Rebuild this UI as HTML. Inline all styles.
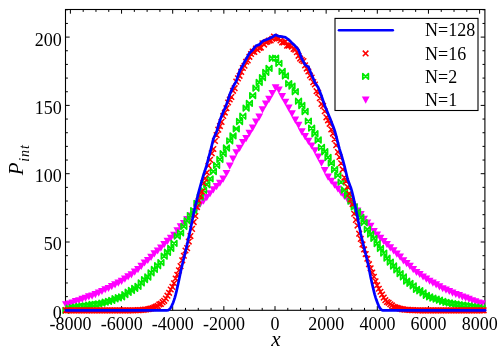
<!DOCTYPE html>
<html><head><meta charset="utf-8"><title>plot</title>
<style>
html,body{margin:0;padding:0;background:#fff;}
body{width:498px;height:353px;overflow:hidden;}
svg{display:block;will-change:transform;}
text{font-family:"Liberation Serif",serif;fill:#000;}
</style></head><body>
<svg width="498" height="353" viewBox="0 0 498 353">
<rect width="498" height="353" fill="#fff"/>
<rect x="65.5" y="9.5" width="419.40" height="300.80" fill="none" stroke="#000" stroke-width="1.1"/>
<path d="M70.40,310.3v-4.2M70.40,9.5v4.2M83.19,310.3v-2.4M83.19,9.5v2.4M95.97,310.3v-2.4M95.97,9.5v2.4M108.76,310.3v-2.4M108.76,9.5v2.4M121.55,310.3v-4.2M121.55,9.5v4.2M134.34,310.3v-2.4M134.34,9.5v2.4M147.12,310.3v-2.4M147.12,9.5v2.4M159.91,310.3v-2.4M159.91,9.5v2.4M172.70,310.3v-4.2M172.70,9.5v4.2M185.49,310.3v-2.4M185.49,9.5v2.4M198.27,310.3v-2.4M198.27,9.5v2.4M211.06,310.3v-2.4M211.06,9.5v2.4M223.85,310.3v-4.2M223.85,9.5v4.2M236.64,310.3v-2.4M236.64,9.5v2.4M249.43,310.3v-2.4M249.43,9.5v2.4M262.21,310.3v-2.4M262.21,9.5v2.4M275.00,310.3v-4.2M275.00,9.5v4.2M287.79,310.3v-2.4M287.79,9.5v2.4M300.57,310.3v-2.4M300.57,9.5v2.4M313.36,310.3v-2.4M313.36,9.5v2.4M326.15,310.3v-4.2M326.15,9.5v4.2M338.94,310.3v-2.4M338.94,9.5v2.4M351.73,310.3v-2.4M351.73,9.5v2.4M364.51,310.3v-2.4M364.51,9.5v2.4M377.30,310.3v-4.2M377.30,9.5v4.2M390.09,310.3v-2.4M390.09,9.5v2.4M402.88,310.3v-2.4M402.88,9.5v2.4M415.66,310.3v-2.4M415.66,9.5v2.4M428.45,310.3v-4.2M428.45,9.5v4.2M441.24,310.3v-2.4M441.24,9.5v2.4M454.02,310.3v-2.4M454.02,9.5v2.4M466.81,310.3v-2.4M466.81,9.5v2.4M479.60,310.3v-4.2M479.60,9.5v4.2M65.5,310.30h4.2M484.9,310.30h-4.2M65.5,296.64h2.4M484.9,296.64h-2.4M65.5,282.98h2.4M484.9,282.98h-2.4M65.5,269.32h2.4M484.9,269.32h-2.4M65.5,255.66h2.4M484.9,255.66h-2.4M65.5,242.00h4.2M484.9,242.00h-4.2M65.5,228.34h2.4M484.9,228.34h-2.4M65.5,214.68h2.4M484.9,214.68h-2.4M65.5,201.02h2.4M484.9,201.02h-2.4M65.5,187.36h2.4M484.9,187.36h-2.4M65.5,173.70h4.2M484.9,173.70h-4.2M65.5,160.04h2.4M484.9,160.04h-2.4M65.5,146.38h2.4M484.9,146.38h-2.4M65.5,132.72h2.4M484.9,132.72h-2.4M65.5,119.06h2.4M484.9,119.06h-2.4M65.5,105.40h4.2M484.9,105.40h-4.2M65.5,91.74h2.4M484.9,91.74h-2.4M65.5,78.08h2.4M484.9,78.08h-2.4M65.5,64.42h2.4M484.9,64.42h-2.4M65.5,50.76h2.4M484.9,50.76h-2.4M65.5,37.10h4.2M484.9,37.10h-4.2M65.5,23.44h2.4M484.9,23.44h-2.4M65.5,9.78h2.4M484.9,9.78h-2.4" fill="none" stroke="#000" stroke-width="1.0"/>
<path d="M62,301.16h7.8l-3.9,7.2zM65.28,300.4h7.8l-3.9,7.2zM68.55,299.51h7.8l-3.9,7.2zM71.83,298.09h7.8l-3.9,7.2zM75.11,297.13h7.8l-3.9,7.2zM78.38,295.8h7.8l-3.9,7.2zM81.66,294.67h7.8l-3.9,7.2zM84.94,293.3h7.8l-3.9,7.2zM88.21,292.43h7.8l-3.9,7.2zM91.49,290.99h7.8l-3.9,7.2zM94.77,289.44h7.8l-3.9,7.2zM98.04,287.89h7.8l-3.9,7.2zM101.32,286.16h7.8l-3.9,7.2zM104.6,284.92h7.8l-3.9,7.2zM107.87,283.03h7.8l-3.9,7.2zM111.15,281.28h7.8l-3.9,7.2zM114.43,279.43h7.8l-3.9,7.2zM117.7,277.68h7.8l-3.9,7.2zM120.98,275.57h7.8l-3.9,7.2zM124.25,273.18h7.8l-3.9,7.2zM127.53,271.18h7.8l-3.9,7.2zM130.81,268.51h7.8l-3.9,7.2zM134.08,265.96h7.8l-3.9,7.2zM137.36,262.75h7.8l-3.9,7.2zM140.64,259.4h7.8l-3.9,7.2zM143.91,256.89h7.8l-3.9,7.2zM147.19,253.69h7.8l-3.9,7.2zM150.47,250.29h7.8l-3.9,7.2zM153.74,247.4h7.8l-3.9,7.2zM157.02,244.44h7.8l-3.9,7.2zM160.3,241.05h7.8l-3.9,7.2zM163.57,237.82h7.8l-3.9,7.2zM166.85,234.64h7.8l-3.9,7.2zM170.13,231.69h7.8l-3.9,7.2zM173.4,227.19h7.8l-3.9,7.2zM176.68,223.35h7.8l-3.9,7.2zM179.96,219.95h7.8l-3.9,7.2zM183.23,216.03h7.8l-3.9,7.2zM186.51,212.38h7.8l-3.9,7.2zM189.79,208h7.8l-3.9,7.2zM193.06,204.77h7.8l-3.9,7.2zM196.34,200.67h7.8l-3.9,7.2zM199.62,197.52h7.8l-3.9,7.2zM202.89,194.09h7.8l-3.9,7.2zM206.17,190.15h7.8l-3.9,7.2zM209.45,186.36h7.8l-3.9,7.2zM212.72,183.12h7.8l-3.9,7.2zM216,179.67h7.8l-3.9,7.2zM219.28,175.5h7.8l-3.9,7.2zM222.55,169.91h7.8l-3.9,7.2zM225.83,162.58h7.8l-3.9,7.2zM229.1,155.46h7.8l-3.9,7.2zM232.38,149.16h7.8l-3.9,7.2zM235.66,144.69h7.8l-3.9,7.2zM238.93,139.09h7.8l-3.9,7.2zM242.21,135.03h7.8l-3.9,7.2zM245.49,129.69h7.8l-3.9,7.2zM248.76,124.59h7.8l-3.9,7.2zM252.04,118.54h7.8l-3.9,7.2zM255.32,113.43h7.8l-3.9,7.2zM258.59,106.18h7.8l-3.9,7.2zM261.87,100.51h7.8l-3.9,7.2zM265.15,95.76h7.8l-3.9,7.2zM268.42,90.05h7.8l-3.9,7.2zM271.7,84.27h7.8l-3.9,7.2zM274.98,86.43h7.8l-3.9,7.2zM278.25,92.97h7.8l-3.9,7.2zM281.53,98.64h7.8l-3.9,7.2zM284.81,104.59h7.8l-3.9,7.2zM288.08,110.32h7.8l-3.9,7.2zM291.36,116.52h7.8l-3.9,7.2zM294.64,121.87h7.8l-3.9,7.2zM297.91,128.25h7.8l-3.9,7.2zM301.19,132.93h7.8l-3.9,7.2zM304.47,137.82h7.8l-3.9,7.2zM307.74,142.4h7.8l-3.9,7.2zM311.02,147.21h7.8l-3.9,7.2zM314.3,153.62h7.8l-3.9,7.2zM317.57,159.67h7.8l-3.9,7.2zM320.85,167.02h7.8l-3.9,7.2zM324.13,173.53h7.8l-3.9,7.2zM327.4,177.64h7.8l-3.9,7.2zM330.68,181.61h7.8l-3.9,7.2zM333.95,185.39h7.8l-3.9,7.2zM337.23,189.19h7.8l-3.9,7.2zM340.51,192.88h7.8l-3.9,7.2zM343.78,196.32h7.8l-3.9,7.2zM347.06,199.74h7.8l-3.9,7.2zM350.34,203.41h7.8l-3.9,7.2zM353.61,207.38h7.8l-3.9,7.2zM356.89,210.93h7.8l-3.9,7.2zM360.17,215.71h7.8l-3.9,7.2zM363.44,219.5h7.8l-3.9,7.2zM366.72,222.74h7.8l-3.9,7.2zM370,227.96h7.8l-3.9,7.2zM373.27,231.59h7.8l-3.9,7.2zM376.55,234.77h7.8l-3.9,7.2zM379.83,237.92h7.8l-3.9,7.2zM383.1,241.01h7.8l-3.9,7.2zM386.38,244.31h7.8l-3.9,7.2zM389.66,247.32h7.8l-3.9,7.2zM392.93,250.54h7.8l-3.9,7.2zM396.21,253.53h7.8l-3.9,7.2zM399.49,257.24h7.8l-3.9,7.2zM402.76,260.01h7.8l-3.9,7.2zM406.04,262.8h7.8l-3.9,7.2zM409.32,265.97h7.8l-3.9,7.2zM412.59,268.91h7.8l-3.9,7.2zM415.87,270.89h7.8l-3.9,7.2zM419.15,273.38h7.8l-3.9,7.2zM422.42,275.44h7.8l-3.9,7.2zM425.7,277.64h7.8l-3.9,7.2zM428.98,279.53h7.8l-3.9,7.2zM432.25,281.32h7.8l-3.9,7.2zM435.53,283.23h7.8l-3.9,7.2zM438.8,285.16h7.8l-3.9,7.2zM442.08,286.47h7.8l-3.9,7.2zM445.36,287.91h7.8l-3.9,7.2zM448.63,289.54h7.8l-3.9,7.2zM451.91,290.91h7.8l-3.9,7.2zM455.19,292.08h7.8l-3.9,7.2zM458.46,293.51h7.8l-3.9,7.2zM461.74,294.61h7.8l-3.9,7.2zM465.02,295.73h7.8l-3.9,7.2zM468.29,297.15h7.8l-3.9,7.2zM471.57,298.27h7.8l-3.9,7.2zM474.85,299.49h7.8l-3.9,7.2zM478.12,300.32h7.8l-3.9,7.2z" fill="#ff00ff"/>
<path d="M63.1,307.5l5.6,5.6v-5.6l-5.6,5.6zM66.38,305.41l5.6,5.6v-5.6l-5.6,5.6zM69.65,304.75l5.6,5.6v-5.6l-5.6,5.6zM72.93,304.34l5.6,5.6v-5.6l-5.6,5.6zM76.21,303.52l5.6,5.6v-5.6l-5.6,5.6zM79.48,303.27l5.6,5.6v-5.6l-5.6,5.6zM82.76,303.1l5.6,5.6v-5.6l-5.6,5.6zM86.04,302.44l5.6,5.6v-5.6l-5.6,5.6zM89.31,301.55l5.6,5.6v-5.6l-5.6,5.6zM92.59,301.55l5.6,5.6v-5.6l-5.6,5.6zM95.87,301.14l5.6,5.6v-5.6l-5.6,5.6zM99.14,300.28l5.6,5.6v-5.6l-5.6,5.6zM102.42,299.26l5.6,5.6v-5.6l-5.6,5.6zM105.7,298.52l5.6,5.6v-5.6l-5.6,5.6zM108.97,297.51l5.6,5.6v-5.6l-5.6,5.6zM112.25,295.96l5.6,5.6v-5.6l-5.6,5.6zM115.53,294.97l5.6,5.6v-5.6l-5.6,5.6zM118.8,293.99l5.6,5.6v-5.6l-5.6,5.6zM122.08,291.87l5.6,5.6v-5.6l-5.6,5.6zM125.35,289.47l5.6,5.6v-5.6l-5.6,5.6zM128.63,287.66l5.6,5.6v-5.6l-5.6,5.6zM131.91,285.59l5.6,5.6v-5.6l-5.6,5.6zM135.18,283.48l5.6,5.6v-5.6l-5.6,5.6zM138.46,280.13l5.6,5.6v-5.6l-5.6,5.6zM141.74,276.76l5.6,5.6v-5.6l-5.6,5.6zM145.01,274.22l5.6,5.6v-5.6l-5.6,5.6zM148.29,269.98l5.6,5.6v-5.6l-5.6,5.6zM151.57,266.64l5.6,5.6v-5.6l-5.6,5.6zM154.84,262.89l5.6,5.6v-5.6l-5.6,5.6zM158.12,259.76l5.6,5.6v-5.6l-5.6,5.6zM161.4,253.4l5.6,5.6v-5.6l-5.6,5.6zM164.67,249.43l5.6,5.6v-5.6l-5.6,5.6zM167.95,245.61l5.6,5.6v-5.6l-5.6,5.6zM171.23,240.52l5.6,5.6v-5.6l-5.6,5.6zM174.5,233.35l5.6,5.6v-5.6l-5.6,5.6zM177.78,229.98l5.6,5.6v-5.6l-5.6,5.6zM181.06,223.66l5.6,5.6v-5.6l-5.6,5.6zM184.33,217.96l5.6,5.6v-5.6l-5.6,5.6zM187.61,212.77l5.6,5.6v-5.6l-5.6,5.6zM190.89,207.73l5.6,5.6v-5.6l-5.6,5.6zM194.16,200.53l5.6,5.6v-5.6l-5.6,5.6zM197.44,194.3l5.6,5.6v-5.6l-5.6,5.6zM200.72,187.53l5.6,5.6v-5.6l-5.6,5.6zM203.99,181.75l5.6,5.6v-5.6l-5.6,5.6zM207.27,176.1l5.6,5.6v-5.6l-5.6,5.6zM210.55,168.69l5.6,5.6v-5.6l-5.6,5.6zM213.82,162.52l5.6,5.6v-5.6l-5.6,5.6zM217.1,156.65l5.6,5.6v-5.6l-5.6,5.6zM220.38,150.86l5.6,5.6v-5.6l-5.6,5.6zM223.65,145.22l5.6,5.6v-5.6l-5.6,5.6zM226.93,137.98l5.6,5.6v-5.6l-5.6,5.6zM230.2,133.12l5.6,5.6v-5.6l-5.6,5.6zM233.48,126.09l5.6,5.6v-5.6l-5.6,5.6zM236.76,118.71l5.6,5.6v-5.6l-5.6,5.6zM240.03,113.4l5.6,5.6v-5.6l-5.6,5.6zM243.31,105.36l5.6,5.6v-5.6l-5.6,5.6zM246.59,100.52l5.6,5.6v-5.6l-5.6,5.6zM249.86,92.84l5.6,5.6v-5.6l-5.6,5.6zM253.14,85.41l5.6,5.6v-5.6l-5.6,5.6zM256.42,79.64l5.6,5.6v-5.6l-5.6,5.6zM259.69,74.81l5.6,5.6v-5.6l-5.6,5.6zM262.97,69.52l5.6,5.6v-5.6l-5.6,5.6zM266.25,65.62l5.6,5.6v-5.6l-5.6,5.6zM269.52,55.56l5.6,5.6v-5.6l-5.6,5.6zM272.8,55.3l5.6,5.6v-5.6l-5.6,5.6zM276.08,60.51l5.6,5.6v-5.6l-5.6,5.6zM279.35,68.57l5.6,5.6v-5.6l-5.6,5.6zM282.63,73.14l5.6,5.6v-5.6l-5.6,5.6zM285.91,80.76l5.6,5.6v-5.6l-5.6,5.6zM289.18,83.26l5.6,5.6v-5.6l-5.6,5.6zM292.46,88.88l5.6,5.6v-5.6l-5.6,5.6zM295.74,98.39l5.6,5.6v-5.6l-5.6,5.6zM299.01,102.68l5.6,5.6v-5.6l-5.6,5.6zM302.29,108.71l5.6,5.6v-5.6l-5.6,5.6zM305.57,118.42l5.6,5.6v-5.6l-5.6,5.6zM308.84,125.27l5.6,5.6v-5.6l-5.6,5.6zM312.12,130.96l5.6,5.6v-5.6l-5.6,5.6zM315.4,137.18l5.6,5.6v-5.6l-5.6,5.6zM318.67,144.49l5.6,5.6v-5.6l-5.6,5.6zM321.95,148.93l5.6,5.6v-5.6l-5.6,5.6zM325.23,154.66l5.6,5.6v-5.6l-5.6,5.6zM328.5,160.3l5.6,5.6v-5.6l-5.6,5.6zM331.78,166.71l5.6,5.6v-5.6l-5.6,5.6zM335.05,172.51l5.6,5.6v-5.6l-5.6,5.6zM338.33,179.23l5.6,5.6v-5.6l-5.6,5.6zM341.61,187.21l5.6,5.6v-5.6l-5.6,5.6zM344.88,192.2l5.6,5.6v-5.6l-5.6,5.6zM348.16,198.39l5.6,5.6v-5.6l-5.6,5.6zM351.44,204.12l5.6,5.6v-5.6l-5.6,5.6zM354.71,209.02l5.6,5.6v-5.6l-5.6,5.6zM357.99,214.56l5.6,5.6v-5.6l-5.6,5.6zM361.27,219.79l5.6,5.6v-5.6l-5.6,5.6zM364.54,226.5l5.6,5.6v-5.6l-5.6,5.6zM367.82,231.32l5.6,5.6v-5.6l-5.6,5.6zM371.1,235.56l5.6,5.6v-5.6l-5.6,5.6zM374.37,240.79l5.6,5.6v-5.6l-5.6,5.6zM377.65,245.67l5.6,5.6v-5.6l-5.6,5.6zM380.93,250.23l5.6,5.6v-5.6l-5.6,5.6zM384.2,255.37l5.6,5.6v-5.6l-5.6,5.6zM387.48,259.24l5.6,5.6v-5.6l-5.6,5.6zM390.76,263.19l5.6,5.6v-5.6l-5.6,5.6zM394.03,267l5.6,5.6v-5.6l-5.6,5.6zM397.31,270.85l5.6,5.6v-5.6l-5.6,5.6zM400.59,274.17l5.6,5.6v-5.6l-5.6,5.6zM403.86,278.32l5.6,5.6v-5.6l-5.6,5.6zM407.14,280.49l5.6,5.6v-5.6l-5.6,5.6zM410.42,283.02l5.6,5.6v-5.6l-5.6,5.6zM413.69,286.55l5.6,5.6v-5.6l-5.6,5.6zM416.97,287.94l5.6,5.6v-5.6l-5.6,5.6zM420.25,289.99l5.6,5.6v-5.6l-5.6,5.6zM423.52,292.51l5.6,5.6v-5.6l-5.6,5.6zM426.8,294.06l5.6,5.6v-5.6l-5.6,5.6zM430.07,295.27l5.6,5.6v-5.6l-5.6,5.6zM433.35,296.24l5.6,5.6v-5.6l-5.6,5.6zM436.63,297.4l5.6,5.6v-5.6l-5.6,5.6zM439.9,298.65l5.6,5.6v-5.6l-5.6,5.6zM443.18,299.58l5.6,5.6v-5.6l-5.6,5.6zM446.46,300.15l5.6,5.6v-5.6l-5.6,5.6zM449.73,300.86l5.6,5.6v-5.6l-5.6,5.6zM453.01,301.33l5.6,5.6v-5.6l-5.6,5.6zM456.29,301.8l5.6,5.6v-5.6l-5.6,5.6zM459.56,302.38l5.6,5.6v-5.6l-5.6,5.6zM462.84,302.87l5.6,5.6v-5.6l-5.6,5.6zM466.12,303.15l5.6,5.6v-5.6l-5.6,5.6zM469.39,303.76l5.6,5.6v-5.6l-5.6,5.6zM472.67,304.37l5.6,5.6v-5.6l-5.6,5.6zM475.95,304.78l5.6,5.6v-5.6l-5.6,5.6zM479.22,305.24l5.6,5.6v-5.6l-5.6,5.6z" fill="none" stroke="#00ea00" stroke-width="1.7" stroke-linejoin="round"/>
<path d="M63.1,307.5l5.6,5.6m-5.6,0l5.6,-5.6M64.74,307.5l5.6,5.6m-5.6,0l5.6,-5.6M66.38,307.5l5.6,5.6m-5.6,0l5.6,-5.6M68.01,307.5l5.6,5.6m-5.6,0l5.6,-5.6M69.65,307.5l5.6,5.6m-5.6,0l5.6,-5.6M71.29,307.5l5.6,5.6m-5.6,0l5.6,-5.6M72.93,307.5l5.6,5.6m-5.6,0l5.6,-5.6M74.57,307.5l5.6,5.6m-5.6,0l5.6,-5.6M76.21,307.5l5.6,5.6m-5.6,0l5.6,-5.6M77.84,307.5l5.6,5.6m-5.6,0l5.6,-5.6M79.48,307.5l5.6,5.6m-5.6,0l5.6,-5.6M81.12,307.5l5.6,5.6m-5.6,0l5.6,-5.6M82.76,307.5l5.6,5.6m-5.6,0l5.6,-5.6M84.4,307.5l5.6,5.6m-5.6,0l5.6,-5.6M86.04,307.5l5.6,5.6m-5.6,0l5.6,-5.6M87.67,307.5l5.6,5.6m-5.6,0l5.6,-5.6M89.31,307.5l5.6,5.6m-5.6,0l5.6,-5.6M90.95,307.5l5.6,5.6m-5.6,0l5.6,-5.6M92.59,307.5l5.6,5.6m-5.6,0l5.6,-5.6M94.23,307.5l5.6,5.6m-5.6,0l5.6,-5.6M95.87,307.5l5.6,5.6m-5.6,0l5.6,-5.6M97.5,307.5l5.6,5.6m-5.6,0l5.6,-5.6M99.14,307.5l5.6,5.6m-5.6,0l5.6,-5.6M100.78,307.5l5.6,5.6m-5.6,0l5.6,-5.6M102.42,307.5l5.6,5.6m-5.6,0l5.6,-5.6M104.06,307.5l5.6,5.6m-5.6,0l5.6,-5.6M105.7,307.5l5.6,5.6m-5.6,0l5.6,-5.6M107.33,307.5l5.6,5.6m-5.6,0l5.6,-5.6M108.97,307.5l5.6,5.6m-5.6,0l5.6,-5.6M110.61,307.5l5.6,5.6m-5.6,0l5.6,-5.6M112.25,307.5l5.6,5.6m-5.6,0l5.6,-5.6M113.89,307.5l5.6,5.6m-5.6,0l5.6,-5.6M115.53,307.5l5.6,5.6m-5.6,0l5.6,-5.6M117.16,307.5l5.6,5.6m-5.6,0l5.6,-5.6M118.8,307.5l5.6,5.6m-5.6,0l5.6,-5.6M120.44,307.5l5.6,5.6m-5.6,0l5.6,-5.6M122.08,307.5l5.6,5.6m-5.6,0l5.6,-5.6M123.72,307.5l5.6,5.6m-5.6,0l5.6,-5.6M125.35,307.5l5.6,5.6m-5.6,0l5.6,-5.6M126.99,307.5l5.6,5.6m-5.6,0l5.6,-5.6M128.63,307.5l5.6,5.6m-5.6,0l5.6,-5.6M130.27,307.5l5.6,5.6m-5.6,0l5.6,-5.6M131.91,307.47l5.6,5.6m-5.6,0l5.6,-5.6M133.55,307.42l5.6,5.6m-5.6,0l5.6,-5.6M135.18,307.35l5.6,5.6m-5.6,0l5.6,-5.6M136.82,307.26l5.6,5.6m-5.6,0l5.6,-5.6M138.46,307.17l5.6,5.6m-5.6,0l5.6,-5.6M140.1,307.05l5.6,5.6m-5.6,0l5.6,-5.6M141.74,306.85l5.6,5.6m-5.6,0l5.6,-5.6M143.38,306.71l5.6,5.6m-5.6,0l5.6,-5.6M145.01,306.42l5.6,5.6m-5.6,0l5.6,-5.6M146.65,306.06l5.6,5.6m-5.6,0l5.6,-5.6M148.29,305.74l5.6,5.6m-5.6,0l5.6,-5.6M149.93,305.33l5.6,5.6m-5.6,0l5.6,-5.6M151.57,304.58l5.6,5.6m-5.6,0l5.6,-5.6M153.21,303.87l5.6,5.6m-5.6,0l5.6,-5.6M154.84,303.14l5.6,5.6m-5.6,0l5.6,-5.6M156.48,301.65l5.6,5.6m-5.6,0l5.6,-5.6M158.12,301.07l5.6,5.6m-5.6,0l5.6,-5.6M159.76,299.4l5.6,5.6m-5.6,0l5.6,-5.6M161.4,298l5.6,5.6m-5.6,0l5.6,-5.6M163.04,295.71l5.6,5.6m-5.6,0l5.6,-5.6M164.67,292.9l5.6,5.6m-5.6,0l5.6,-5.6M166.31,290.02l5.6,5.6m-5.6,0l5.6,-5.6M167.95,286.69l5.6,5.6m-5.6,0l5.6,-5.6M169.59,284.08l5.6,5.6m-5.6,0l5.6,-5.6M171.23,280.47l5.6,5.6m-5.6,0l5.6,-5.6M172.86,275.67l5.6,5.6m-5.6,0l5.6,-5.6M174.5,271.94l5.6,5.6m-5.6,0l5.6,-5.6M176.14,267.57l5.6,5.6m-5.6,0l5.6,-5.6M177.78,263.33l5.6,5.6m-5.6,0l5.6,-5.6M179.42,257.53l5.6,5.6m-5.6,0l5.6,-5.6M181.06,252.99l5.6,5.6m-5.6,0l5.6,-5.6M182.69,247.71l5.6,5.6m-5.6,0l5.6,-5.6M184.33,245.33l5.6,5.6m-5.6,0l5.6,-5.6M185.97,238.78l5.6,5.6m-5.6,0l5.6,-5.6M187.61,233.28l5.6,5.6m-5.6,0l5.6,-5.6M189.25,226.07l5.6,5.6m-5.6,0l5.6,-5.6M190.89,219.26l5.6,5.6m-5.6,0l5.6,-5.6M192.52,213.2l5.6,5.6m-5.6,0l5.6,-5.6M194.16,204.27l5.6,5.6m-5.6,0l5.6,-5.6M195.8,197.83l5.6,5.6m-5.6,0l5.6,-5.6M197.44,192.89l5.6,5.6m-5.6,0l5.6,-5.6M199.08,188.63l5.6,5.6m-5.6,0l5.6,-5.6M200.72,180.33l5.6,5.6m-5.6,0l5.6,-5.6M202.35,175.46l5.6,5.6m-5.6,0l5.6,-5.6M203.99,169.76l5.6,5.6m-5.6,0l5.6,-5.6M205.63,162.86l5.6,5.6m-5.6,0l5.6,-5.6M207.27,157.03l5.6,5.6m-5.6,0l5.6,-5.6M208.91,150.55l5.6,5.6m-5.6,0l5.6,-5.6M210.55,146.19l5.6,5.6m-5.6,0l5.6,-5.6M212.18,138.23l5.6,5.6m-5.6,0l5.6,-5.6M213.82,132.26l5.6,5.6m-5.6,0l5.6,-5.6M215.46,126.9l5.6,5.6m-5.6,0l5.6,-5.6M217.1,123.25l5.6,5.6m-5.6,0l5.6,-5.6M218.74,119.07l5.6,5.6m-5.6,0l5.6,-5.6M220.38,113.17l5.6,5.6m-5.6,0l5.6,-5.6M222.01,109.75l5.6,5.6m-5.6,0l5.6,-5.6M223.65,105.37l5.6,5.6m-5.6,0l5.6,-5.6M225.29,99.68l5.6,5.6m-5.6,0l5.6,-5.6M226.93,96.72l5.6,5.6m-5.6,0l5.6,-5.6M228.57,94.16l5.6,5.6m-5.6,0l5.6,-5.6M230.2,88.05l5.6,5.6m-5.6,0l5.6,-5.6M231.84,85.38l5.6,5.6m-5.6,0l5.6,-5.6M233.48,78.83l5.6,5.6m-5.6,0l5.6,-5.6M235.12,75.58l5.6,5.6m-5.6,0l5.6,-5.6M236.76,73.04l5.6,5.6m-5.6,0l5.6,-5.6M238.4,69.14l5.6,5.6m-5.6,0l5.6,-5.6M240.03,65.17l5.6,5.6m-5.6,0l5.6,-5.6M241.67,62.98l5.6,5.6m-5.6,0l5.6,-5.6M243.31,58.92l5.6,5.6m-5.6,0l5.6,-5.6M244.95,57.66l5.6,5.6m-5.6,0l5.6,-5.6M246.59,54.01l5.6,5.6m-5.6,0l5.6,-5.6M248.23,51.17l5.6,5.6m-5.6,0l5.6,-5.6M249.86,48.78l5.6,5.6m-5.6,0l5.6,-5.6M251.5,49.08l5.6,5.6m-5.6,0l5.6,-5.6M253.14,45.78l5.6,5.6m-5.6,0l5.6,-5.6M254.78,47.19l5.6,5.6m-5.6,0l5.6,-5.6M256.42,45.06l5.6,5.6m-5.6,0l5.6,-5.6M258.06,44.77l5.6,5.6m-5.6,0l5.6,-5.6M259.69,40.44l5.6,5.6m-5.6,0l5.6,-5.6M261.33,41.77l5.6,5.6m-5.6,0l5.6,-5.6M262.97,39.49l5.6,5.6m-5.6,0l5.6,-5.6M264.61,38.78l5.6,5.6m-5.6,0l5.6,-5.6M266.25,37.8l5.6,5.6m-5.6,0l5.6,-5.6M267.89,37.63l5.6,5.6m-5.6,0l5.6,-5.6M269.52,36.05l5.6,5.6m-5.6,0l5.6,-5.6M271.16,33.76l5.6,5.6m-5.6,0l5.6,-5.6M272.8,35.06l5.6,5.6m-5.6,0l5.6,-5.6M274.44,35.49l5.6,5.6m-5.6,0l5.6,-5.6M276.08,35.67l5.6,5.6m-5.6,0l5.6,-5.6M277.71,37.68l5.6,5.6m-5.6,0l5.6,-5.6M279.35,39.6l5.6,5.6m-5.6,0l5.6,-5.6M280.99,39.71l5.6,5.6m-5.6,0l5.6,-5.6M282.63,38.96l5.6,5.6m-5.6,0l5.6,-5.6M284.27,42.87l5.6,5.6m-5.6,0l5.6,-5.6M285.91,42.9l5.6,5.6m-5.6,0l5.6,-5.6M287.54,42.42l5.6,5.6m-5.6,0l5.6,-5.6M289.18,43.91l5.6,5.6m-5.6,0l5.6,-5.6M290.82,46.12l5.6,5.6m-5.6,0l5.6,-5.6M292.46,46.88l5.6,5.6m-5.6,0l5.6,-5.6M294.1,49.46l5.6,5.6m-5.6,0l5.6,-5.6M295.74,53.05l5.6,5.6m-5.6,0l5.6,-5.6M297.37,55.77l5.6,5.6m-5.6,0l5.6,-5.6M299.01,57.28l5.6,5.6m-5.6,0l5.6,-5.6M300.65,58.32l5.6,5.6m-5.6,0l5.6,-5.6M302.29,62.56l5.6,5.6m-5.6,0l5.6,-5.6M303.93,65.78l5.6,5.6m-5.6,0l5.6,-5.6M305.57,68.7l5.6,5.6m-5.6,0l5.6,-5.6M307.2,72.69l5.6,5.6m-5.6,0l5.6,-5.6M308.84,74.69l5.6,5.6m-5.6,0l5.6,-5.6M310.48,79.32l5.6,5.6m-5.6,0l5.6,-5.6M312.12,81.74l5.6,5.6m-5.6,0l5.6,-5.6M313.76,88.38l5.6,5.6m-5.6,0l5.6,-5.6M315.4,90.04l5.6,5.6m-5.6,0l5.6,-5.6M317.03,95.38l5.6,5.6m-5.6,0l5.6,-5.6M318.67,101.1l5.6,5.6m-5.6,0l5.6,-5.6M320.31,103.13l5.6,5.6m-5.6,0l5.6,-5.6M321.95,108.49l5.6,5.6m-5.6,0l5.6,-5.6M323.59,114.5l5.6,5.6m-5.6,0l5.6,-5.6M325.23,117.54l5.6,5.6m-5.6,0l5.6,-5.6M326.86,121.03l5.6,5.6m-5.6,0l5.6,-5.6M328.5,126.61l5.6,5.6m-5.6,0l5.6,-5.6M330.14,130.8l5.6,5.6m-5.6,0l5.6,-5.6M331.78,136.4l5.6,5.6m-5.6,0l5.6,-5.6M333.42,142.38l5.6,5.6m-5.6,0l5.6,-5.6M335.05,149.17l5.6,5.6m-5.6,0l5.6,-5.6M336.69,154.23l5.6,5.6m-5.6,0l5.6,-5.6M338.33,160.41l5.6,5.6m-5.6,0l5.6,-5.6M339.97,166.65l5.6,5.6m-5.6,0l5.6,-5.6M341.61,174.69l5.6,5.6m-5.6,0l5.6,-5.6M343.25,178.47l5.6,5.6m-5.6,0l5.6,-5.6M344.88,184.1l5.6,5.6m-5.6,0l5.6,-5.6M346.52,190.98l5.6,5.6m-5.6,0l5.6,-5.6M348.16,196.5l5.6,5.6m-5.6,0l5.6,-5.6M349.8,201.37l5.6,5.6m-5.6,0l5.6,-5.6M351.44,210.96l5.6,5.6m-5.6,0l5.6,-5.6M353.08,217.09l5.6,5.6m-5.6,0l5.6,-5.6M354.71,222.77l5.6,5.6m-5.6,0l5.6,-5.6M356.35,230.86l5.6,5.6m-5.6,0l5.6,-5.6M357.99,236.12l5.6,5.6m-5.6,0l5.6,-5.6M359.63,241.62l5.6,5.6m-5.6,0l5.6,-5.6M361.27,246.62l5.6,5.6m-5.6,0l5.6,-5.6M362.91,251.25l5.6,5.6m-5.6,0l5.6,-5.6M364.54,255.92l5.6,5.6m-5.6,0l5.6,-5.6M366.18,261.39l5.6,5.6m-5.6,0l5.6,-5.6M367.82,265.53l5.6,5.6m-5.6,0l5.6,-5.6M369.46,269.8l5.6,5.6m-5.6,0l5.6,-5.6M371.1,273.99l5.6,5.6m-5.6,0l5.6,-5.6M372.74,278.49l5.6,5.6m-5.6,0l5.6,-5.6M374.37,282.36l5.6,5.6m-5.6,0l5.6,-5.6M376.01,285.96l5.6,5.6m-5.6,0l5.6,-5.6M377.65,288.99l5.6,5.6m-5.6,0l5.6,-5.6M379.29,291.76l5.6,5.6m-5.6,0l5.6,-5.6M380.93,294.77l5.6,5.6m-5.6,0l5.6,-5.6M382.56,297.36l5.6,5.6m-5.6,0l5.6,-5.6M384.2,299.19l5.6,5.6m-5.6,0l5.6,-5.6M385.84,299.94l5.6,5.6m-5.6,0l5.6,-5.6M387.48,301.45l5.6,5.6m-5.6,0l5.6,-5.6M389.12,302.64l5.6,5.6m-5.6,0l5.6,-5.6M390.76,304l5.6,5.6m-5.6,0l5.6,-5.6M392.39,304.41l5.6,5.6m-5.6,0l5.6,-5.6M394.03,305.08l5.6,5.6m-5.6,0l5.6,-5.6M395.67,305.46l5.6,5.6m-5.6,0l5.6,-5.6M397.31,305.95l5.6,5.6m-5.6,0l5.6,-5.6M398.95,306.33l5.6,5.6m-5.6,0l5.6,-5.6M400.59,306.58l5.6,5.6m-5.6,0l5.6,-5.6M402.22,306.94l5.6,5.6m-5.6,0l5.6,-5.6M403.86,306.97l5.6,5.6m-5.6,0l5.6,-5.6M405.5,307.13l5.6,5.6m-5.6,0l5.6,-5.6M407.14,307.23l5.6,5.6m-5.6,0l5.6,-5.6M408.78,307.32l5.6,5.6m-5.6,0l5.6,-5.6M410.42,307.4l5.6,5.6m-5.6,0l5.6,-5.6M412.05,307.45l5.6,5.6m-5.6,0l5.6,-5.6M413.69,307.49l5.6,5.6m-5.6,0l5.6,-5.6M415.33,307.5l5.6,5.6m-5.6,0l5.6,-5.6M416.97,307.5l5.6,5.6m-5.6,0l5.6,-5.6M418.61,307.5l5.6,5.6m-5.6,0l5.6,-5.6M420.25,307.5l5.6,5.6m-5.6,0l5.6,-5.6M421.88,307.5l5.6,5.6m-5.6,0l5.6,-5.6M423.52,307.5l5.6,5.6m-5.6,0l5.6,-5.6M425.16,307.5l5.6,5.6m-5.6,0l5.6,-5.6M426.8,307.5l5.6,5.6m-5.6,0l5.6,-5.6M428.44,307.5l5.6,5.6m-5.6,0l5.6,-5.6M430.07,307.5l5.6,5.6m-5.6,0l5.6,-5.6M431.71,307.5l5.6,5.6m-5.6,0l5.6,-5.6M433.35,307.5l5.6,5.6m-5.6,0l5.6,-5.6M434.99,307.5l5.6,5.6m-5.6,0l5.6,-5.6M436.63,307.5l5.6,5.6m-5.6,0l5.6,-5.6M438.27,307.5l5.6,5.6m-5.6,0l5.6,-5.6M439.9,307.5l5.6,5.6m-5.6,0l5.6,-5.6M441.54,307.5l5.6,5.6m-5.6,0l5.6,-5.6M443.18,307.5l5.6,5.6m-5.6,0l5.6,-5.6M444.82,307.5l5.6,5.6m-5.6,0l5.6,-5.6M446.46,307.5l5.6,5.6m-5.6,0l5.6,-5.6M448.1,307.5l5.6,5.6m-5.6,0l5.6,-5.6M449.73,307.5l5.6,5.6m-5.6,0l5.6,-5.6M451.37,307.5l5.6,5.6m-5.6,0l5.6,-5.6M453.01,307.5l5.6,5.6m-5.6,0l5.6,-5.6M454.65,307.5l5.6,5.6m-5.6,0l5.6,-5.6M456.29,307.5l5.6,5.6m-5.6,0l5.6,-5.6M457.93,307.5l5.6,5.6m-5.6,0l5.6,-5.6M459.56,307.5l5.6,5.6m-5.6,0l5.6,-5.6M461.2,307.5l5.6,5.6m-5.6,0l5.6,-5.6M462.84,307.5l5.6,5.6m-5.6,0l5.6,-5.6M464.48,307.5l5.6,5.6m-5.6,0l5.6,-5.6M466.12,307.5l5.6,5.6m-5.6,0l5.6,-5.6M467.76,307.5l5.6,5.6m-5.6,0l5.6,-5.6M469.39,307.5l5.6,5.6m-5.6,0l5.6,-5.6M471.03,307.5l5.6,5.6m-5.6,0l5.6,-5.6M472.67,307.5l5.6,5.6m-5.6,0l5.6,-5.6M474.31,307.5l5.6,5.6m-5.6,0l5.6,-5.6M475.95,307.5l5.6,5.6m-5.6,0l5.6,-5.6M477.59,307.5l5.6,5.6m-5.6,0l5.6,-5.6M479.22,307.5l5.6,5.6m-5.6,0l5.6,-5.6M480.86,307.5l5.6,5.6m-5.6,0l5.6,-5.6" fill="none" stroke="#ff0000" stroke-width="1.5"/>
<polyline points="65.90,310.30 66.72,310.30 67.54,310.30 68.36,310.30 69.18,310.30 70.00,310.30 70.81,310.30 71.63,310.30 72.45,310.30 73.27,310.30 74.09,310.30 74.91,310.30 75.73,310.30 76.55,310.30 77.37,310.30 78.19,310.30 79.01,310.30 79.83,310.30 80.64,310.30 81.46,310.30 82.28,310.30 83.10,310.30 83.92,310.30 84.74,310.30 85.56,310.30 86.38,310.30 87.20,310.30 88.02,310.30 88.84,310.30 89.66,310.30 90.47,310.30 91.29,310.30 92.11,310.30 92.93,310.30 93.75,310.30 94.57,310.30 95.39,310.30 96.21,310.30 97.03,310.30 97.85,310.30 98.67,310.30 99.48,310.30 100.30,310.30 101.12,310.30 101.94,310.30 102.76,310.30 103.58,310.30 104.40,310.30 105.22,310.30 106.04,310.30 106.86,310.30 107.68,310.30 108.50,310.30 109.31,310.30 110.13,310.30 110.95,310.30 111.77,310.30 112.59,310.30 113.41,310.30 114.23,310.30 115.05,310.30 115.87,310.30 116.69,310.30 117.51,310.30 118.33,310.30 119.14,310.30 119.96,310.30 120.78,310.30 121.60,310.30 122.42,310.30 123.24,310.30 124.06,310.30 124.88,310.30 125.70,310.30 126.52,310.30 127.34,310.30 128.15,310.30 128.97,310.30 129.79,310.30 130.61,310.30 131.43,310.30 132.25,310.30 133.07,310.30 133.89,310.30 134.71,310.30 135.53,310.30 136.35,310.30 137.17,310.30 137.98,310.30 138.80,310.30 139.62,310.30 140.44,310.30 141.26,310.30 142.08,310.30 142.90,310.30 143.72,310.30 144.54,310.30 145.36,310.30 146.18,310.30 146.99,310.30 147.81,310.30 148.63,310.30 149.45,310.30 150.27,310.30 151.09,310.30 151.91,310.30 152.73,310.30 153.55,310.30 154.37,310.30 155.19,310.30 156.01,310.30 156.82,310.30 157.64,310.30 158.46,310.30 159.28,310.30 160.10,310.30 160.92,310.30 161.74,310.30 162.56,310.30 163.38,310.30 164.20,310.30 165.02,310.30 165.84,310.30 166.65,310.30 167.47,310.30 168.29,310.13 169.11,309.55 169.93,308.77 170.75,307.72 171.57,306.18 172.39,304.43 173.21,302.45 174.03,300.16 174.85,297.54 175.66,294.66 176.48,291.31 177.30,287.65 178.12,284.01 178.94,280.20 179.76,276.24 180.58,272.27 181.40,268.51 182.22,264.96 183.04,261.55 183.86,258.22 184.68,254.90 185.49,251.55 186.31,248.12 187.13,244.59 187.95,240.86 188.77,237.08 189.59,233.29 190.41,229.49 191.23,225.43 192.05,221.34 192.87,217.15 193.69,212.91 194.51,209.43 195.32,206.00 196.14,202.66 196.96,199.46 197.78,195.81 198.60,192.39 199.42,189.35 200.24,186.34 201.06,183.46 201.88,180.58 202.70,177.69 203.52,174.79 204.33,172.39 205.15,169.96 205.97,167.47 206.79,164.96 207.61,161.63 208.43,158.37 209.25,155.26 210.07,152.23 210.89,149.17 211.71,145.88 212.53,142.41 213.35,139.01 214.16,137.07 214.98,135.25 215.80,133.50 216.62,131.82 217.44,128.85 218.26,125.96 219.08,123.15 219.90,120.43 220.72,118.22 221.54,116.11 222.36,114.05 223.18,112.03 223.99,110.27 224.81,108.47 225.63,106.61 226.45,104.71 227.27,102.17 228.09,99.62 228.91,97.07 229.73,94.53 230.55,92.57 231.37,90.65 232.19,88.78 233.00,86.97 233.82,85.49 234.64,84.02 235.46,82.59 236.28,81.18 237.10,78.66 237.92,76.16 238.74,73.71 239.56,71.29 240.38,69.68 241.20,68.11 242.02,66.59 242.83,65.11 243.65,63.54 244.47,62.00 245.29,60.51 246.11,59.04 246.93,57.53 247.75,56.05 248.57,54.61 249.39,53.22 250.21,52.39 251.03,51.58 251.84,50.80 252.66,50.07 253.48,48.88 254.30,47.79 255.12,46.79 255.94,45.84 256.76,45.48 257.58,45.17 258.40,44.88 259.22,44.61 260.04,43.77 260.86,42.94 261.67,42.13 262.49,41.33 263.31,40.96 264.13,40.60 264.95,40.27 265.77,39.97 266.59,39.60 267.41,39.26 268.23,38.92 269.05,38.60 269.87,38.20 270.69,37.82 271.50,37.45 272.32,37.10 273.14,36.46 273.96,35.84 274.78,35.25 275.60,34.91 276.42,35.23 277.24,35.56 278.06,35.91 278.88,36.28 279.70,36.36 280.51,36.46 281.33,36.57 282.15,36.69 282.97,36.83 283.79,36.99 284.61,37.17 285.43,37.37 286.25,37.92 287.07,38.49 287.89,39.08 288.71,39.70 289.53,40.49 290.34,41.31 291.16,42.13 291.98,42.97 292.80,43.71 293.62,44.47 294.44,45.27 295.26,46.12 296.08,46.94 296.90,47.85 297.72,48.85 298.54,49.94 299.36,52.10 300.17,54.28 300.99,56.48 301.81,58.73 302.63,60.19 303.45,61.70 304.27,63.23 305.09,64.80 305.91,65.28 306.73,65.79 307.55,66.35 308.37,66.94 309.18,68.85 310.00,70.81 310.82,72.81 311.64,74.85 312.46,76.71 313.28,78.60 314.10,80.52 314.92,82.47 315.74,83.70 316.56,84.95 317.38,86.23 318.20,87.55 319.01,89.56 319.83,91.61 320.65,93.71 321.47,95.83 322.29,98.27 323.11,100.72 323.93,103.15 324.75,105.55 325.57,107.59 326.39,109.58 327.21,111.52 328.03,113.47 328.84,115.41 329.66,117.40 330.48,119.49 331.30,121.69 332.12,123.72 332.94,125.83 333.76,128.01 334.58,130.28 335.40,133.20 336.22,136.19 337.04,139.29 337.85,142.62 338.67,145.78 339.49,148.79 340.31,151.55 341.13,154.23 341.95,156.95 342.77,159.82 343.59,162.76 344.41,165.74 345.23,169.20 346.05,172.61 346.87,175.99 347.68,179.35 348.50,181.54 349.32,183.71 350.14,185.89 350.96,188.02 351.78,190.90 352.60,194.15 353.42,197.65 354.24,201.34 355.06,205.19 355.88,209.13 356.69,213.13 357.51,217.13 358.33,221.44 359.15,225.66 359.97,229.84 360.79,234.03 361.61,237.51 362.43,240.97 363.25,244.39 364.07,247.76 364.89,251.07 365.71,254.29 366.52,257.48 367.34,260.69 368.16,264.53 368.98,268.49 369.80,272.68 370.62,277.01 371.44,280.81 372.26,284.46 373.08,287.93 373.90,291.34 374.72,294.57 375.54,297.33 376.35,299.82 377.17,302.05 377.99,304.14 378.81,305.99 379.63,307.63 380.45,308.82 381.27,309.59 382.09,310.16 382.91,310.30 383.73,310.30 384.55,310.30 385.36,310.30 386.18,310.30 387.00,310.30 387.82,310.30 388.64,310.30 389.46,310.30 390.28,310.30 391.10,310.30 391.92,310.30 392.74,310.30 393.56,310.30 394.38,310.30 395.19,310.30 396.01,310.30 396.83,310.30 397.65,310.30 398.47,310.30 399.29,310.30 400.11,310.30 400.93,310.30 401.75,310.30 402.57,310.30 403.39,310.30 404.21,310.30 405.02,310.30 405.84,310.30 406.66,310.30 407.48,310.30 408.30,310.30 409.12,310.30 409.94,310.30 410.76,310.30 411.58,310.30 412.40,310.30 413.22,310.30 414.03,310.30 414.85,310.30 415.67,310.30 416.49,310.30 417.31,310.30 418.13,310.30 418.95,310.30 419.77,310.30 420.59,310.30 421.41,310.30 422.23,310.30 423.05,310.30 423.86,310.30 424.68,310.30 425.50,310.30 426.32,310.30 427.14,310.30 427.96,310.30 428.78,310.30 429.60,310.30 430.42,310.30 431.24,310.30 432.06,310.30 432.88,310.30 433.69,310.30 434.51,310.30 435.33,310.30 436.15,310.30 436.97,310.30 437.79,310.30 438.61,310.30 439.43,310.30 440.25,310.30 441.07,310.30 441.89,310.30 442.70,310.30 443.52,310.30 444.34,310.30 445.16,310.30 445.98,310.30 446.80,310.30 447.62,310.30 448.44,310.30 449.26,310.30 450.08,310.30 450.90,310.30 451.72,310.30 452.53,310.30 453.35,310.30 454.17,310.30 454.99,310.30 455.81,310.30 456.63,310.30 457.45,310.30 458.27,310.30 459.09,310.30 459.91,310.30 460.73,310.30 461.54,310.30 462.36,310.30 463.18,310.30 464.00,310.30 464.82,310.30 465.64,310.30 466.46,310.30 467.28,310.30 468.10,310.30 468.92,310.30 469.74,310.30 470.56,310.30 471.37,310.30 472.19,310.30 473.01,310.30 473.83,310.30 474.65,310.30 475.47,310.30 476.29,310.30 477.11,310.30 477.93,310.30 478.75,310.30 479.57,310.30 480.39,310.30 481.20,310.30 482.02,310.30 482.84,310.30 483.66,310.30 484.48,310.30 485.30,310.30" fill="none" stroke="#0000ff" stroke-width="2.7" stroke-linejoin="round" stroke-linecap="round"/>
<g>
<text x="70.50" y="330.3" font-size="18" text-anchor="middle">-8000</text>
<text x="121.65" y="330.3" font-size="18" text-anchor="middle">-6000</text>
<text x="172.80" y="330.3" font-size="18" text-anchor="middle">-4000</text>
<text x="223.95" y="330.3" font-size="18" text-anchor="middle">-2000</text>
<text x="275.10" y="330.3" font-size="18" text-anchor="middle">0</text>
<text x="326.25" y="330.3" font-size="18" text-anchor="middle">2000</text>
<text x="377.40" y="330.3" font-size="18" text-anchor="middle">4000</text>
<text x="428.55" y="330.3" font-size="18" text-anchor="middle">6000</text>
<text x="479.70" y="330.3" font-size="18" text-anchor="middle">8000</text>
<text x="61.7" y="318.70" font-size="18" text-anchor="end">0</text>
<text x="61.7" y="250.40" font-size="18" text-anchor="end">50</text>
<text x="61.7" y="182.10" font-size="18" text-anchor="end">100</text>
<text x="61.7" y="113.80" font-size="18" text-anchor="end">150</text>
<text x="61.7" y="45.50" font-size="18" text-anchor="end">200</text>
<text x="275.8" y="345.8" font-size="21" font-style="italic" text-anchor="middle">x</text>
</g>
<g transform="translate(22.7,175.2) rotate(-90)"><text x="0" y="0" font-size="21" font-style="italic">P</text><text x="13.4" y="6.3" font-size="14" font-style="italic" letter-spacing="1">int</text></g>
<rect x="335" y="18.4" width="143" height="92.1" fill="#fff" stroke="#000" stroke-width="1.1"/>
<line x1="339" y1="30.2" x2="392.8" y2="30.2" stroke="#0000ff" stroke-width="2.6" stroke-linecap="round"/>
<path d="M362.8,50.6l5.6,5.6m-5.6,0l5.6,-5.6" fill="none" stroke="#ff0000" stroke-width="1.5"/>
<path d="M362.8,73.6l5.6,5.6v-5.6l-5.6,5.6z" fill="none" stroke="#00ea00" stroke-width="1.7" stroke-linejoin="round"/>
<path d="M361.8,96.6h7.8l-3.9,7.2z" fill="#ff00ff"/>
<g>
<text x="425" y="36.2" font-size="18">N=128</text>
<text x="425" y="59.5" font-size="18">N=16</text>
<text x="425" y="82.8" font-size="18">N=2</text>
<text x="425" y="106.1" font-size="18">N=1</text>
</g>
</svg>
</body></html>
